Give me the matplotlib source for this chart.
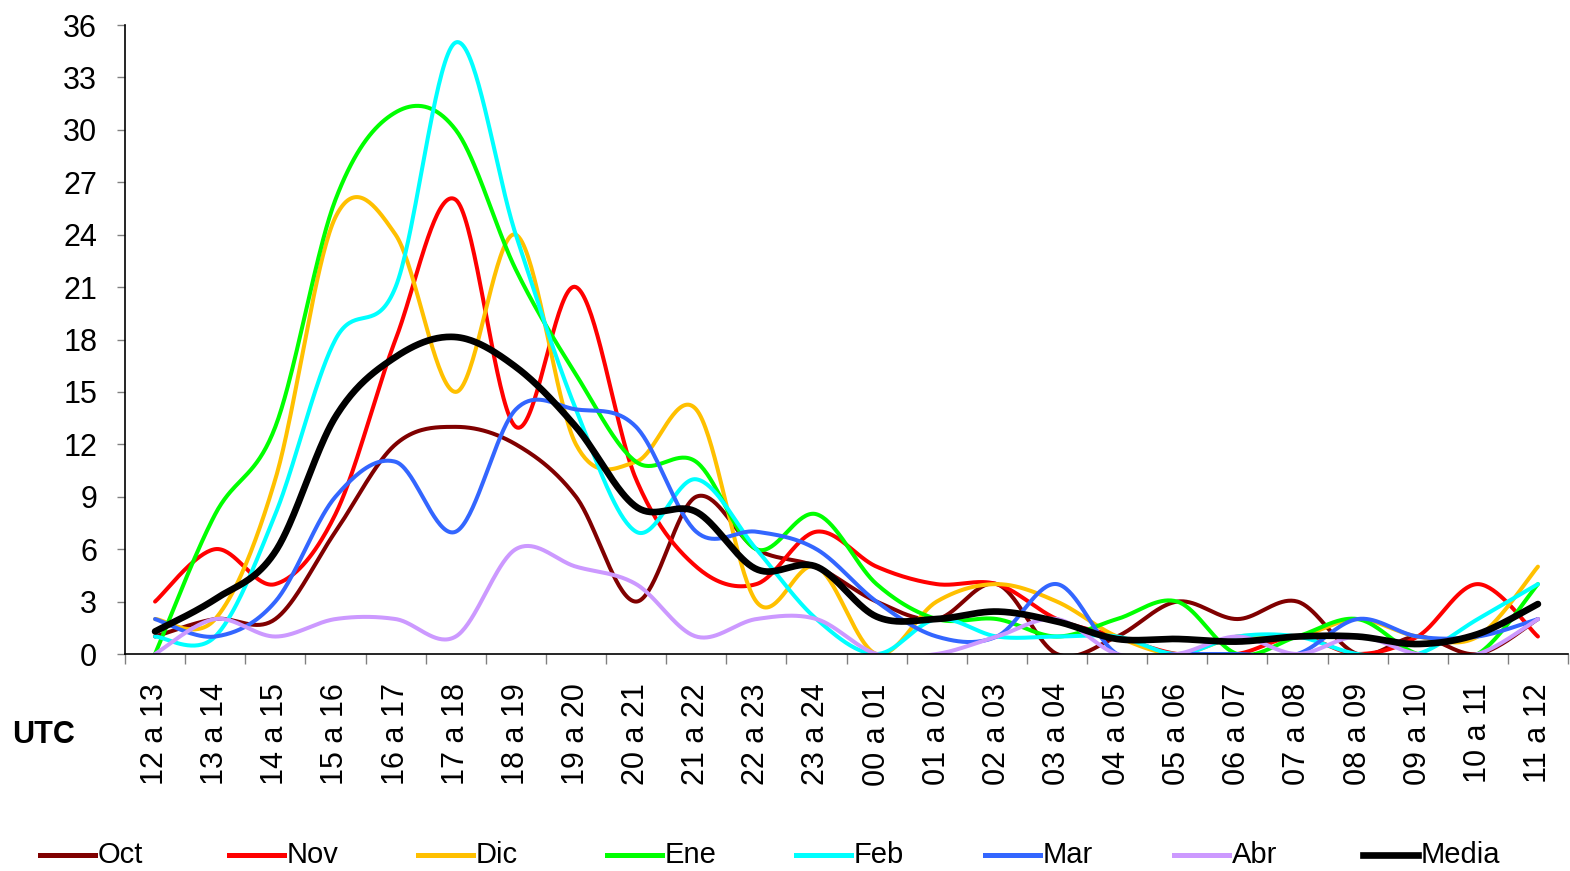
import numpy as np
import matplotlib
matplotlib.use("Agg")
import matplotlib.pyplot as plt
from matplotlib.lines import Line2D

plt.rcParams['font.family'] = ['Liberation Sans', 'DejaVu Sans']

# franjas horarias UTC
horas = ['12 a 13', '13 a 14', '14 a 15', '15 a 16', '16 a 17', '17 a 18',
         '18 a 19', '19 a 20', '20 a 21', '21 a 22', '22 a 23', '23 a 24',
         '00 a 01', '01 a 02', '02 a 03', '03 a 04', '04 a 05', '05 a 06',
         '06 a 07', '07 a 08', '08 a 09', '09 a 10', '10 a 11', '11 a 12']

oct_ = [1, 2, 2, 7, 12, 13, 12, 9, 3, 9, 6, 5, 3, 2, 4, 0, 1, 3, 2, 3, 0, 1, 0, 2]
nov = [3, 6, 4, 8, 18, 26, 13, 21, 10, 5, 4, 7, 5, 4, 4, 2, 1, 0, 0, 1, 0, 1, 4, 1]
dic = [2, 2, 10, 25, 24, 15, 24, 12, 11, 14, 3, 5, 0, 3, 4, 3, 1, 0, 1, 1, 2, 1, 1, 5]
ene = [0, 8, 13, 26, 31, 30, 22, 16, 11, 11, 6, 8, 4, 2, 2, 1, 2, 3, 0, 1, 2, 0, 0, 4]
feb = [1, 1, 8, 18, 21, 35, 24, 14, 7, 10, 6, 2, 0, 2, 1, 1, 1, 0, 1, 1, 0, 0, 2, 4]
mar = [2, 1, 3, 9, 11, 7, 14, 14, 13, 7, 7, 6, 3, 1, 1, 4, 0, 0, 0, 0, 2, 1, 1, 2]
abr = [0, 2, 1, 2, 2, 1, 6, 5, 4, 1, 2, 2, 0, 0, 1, 2, 0, 0, 1, 0, 1, 0, 0, 2]
media = [1.29, 3.14, 5.86, 13.57, 17.0, 18.14, 16.43, 13.0, 8.43, 8.14, 4.86, 5.0,
         2.14, 2.0, 2.43, 1.86, 0.86, 0.86, 0.71, 1.0, 1.0, 0.57, 1.14, 2.86]

nombres = ['Oct', 'Nov', 'Dic', 'Ene', 'Feb', 'Mar', 'Abr', 'Media']
series = [oct_, nov, dic, ene, feb, mar, abr, media]
colores = ['#800000', '#FF0000', '#FFC000', '#00FF00', '#00FFFF', '#3366FF', '#CC99FF', '#000000']


def suavizar(ys, n=40):
    # curva tipo Excel: bezier con tangentes catmull-rom
    pts = np.column_stack([np.arange(len(ys)), ys]).astype(float)
    P = np.vstack([pts[0], pts, pts[-1]])
    t = np.linspace(0, 1, n)[:, None]
    out = []
    for i in range(len(pts) - 1):
        p0, p1, p2, p3 = P[i], P[i + 1], P[i + 2], P[i + 3]
        c1 = p1 + (p2 - p0) / 6
        c2 = p2 - (p3 - p1) / 6
        seg = (1 - t)**3 * p1 + 3 * (1 - t)**2 * t * c1 + 3 * (1 - t) * t**2 * c2 + t**3 * p2
        out.append(seg if i == 0 else seg[1:])
    return np.vstack(out)


W, H = 1570, 871
fig = plt.figure(figsize=(W / 100, H / 100), dpi=100)
ax = fig.add_axes([125 / W, 1 - 654 / H, (1568 - 125) / W, (654 - 25) / H])

for nombre, ys, c in zip(nombres, series, colores):
    lw = 4.8 if nombre == 'Media' else 2.9
    s = suavizar(ys)
    ax.plot(s[:, 0], s[:, 1], color=c, lw=lw, solid_capstyle='round')

ax.set_xlim(-0.5, len(horas) - 0.5)
ax.set_ylim(0, 36)
ax.set_yticks(np.arange(0, 37, 3))
ax.set_xticks(np.arange(len(horas)))
ax.set_xticklabels(horas, rotation=90, fontsize=22)
ax.set_xticks(np.arange(len(horas) + 1) - 0.5, minor=True)
ax.tick_params(axis='x', which='major', length=0, pad=21)
ax.tick_params(axis='x', which='minor', length=7.5, color='#808080', width=1)
ax.tick_params(axis='y', length=6, color='#808080', width=1, pad=14, labelsize=22)

for s in ['top', 'right']:
    ax.spines[s].set_visible(False)
for s in ['left', 'bottom']:
    ax.spines[s].set_linewidth(1.2)

fig.text(12 / W, 1 - 735 / H, 'UTC', fontsize=22, fontweight='bold', va='center', ha='left')

# leyenda inferior
for k, (nombre, c) in enumerate(zip(nombres, colores)):
    x0 = 40 + 189 * k
    lw = 4.8 if nombre == 'Media' else 3.6
    yl = 1 - 855 / H
    fig.add_artist(Line2D([x0 / W, (x0 + 55) / W], [yl, yl], color=c, lw=lw))
    fig.text((x0 + 58) / W, yl, nombre, fontsize=21, va='center', ha='left')

fig.savefig('out.png', dpi=100)
